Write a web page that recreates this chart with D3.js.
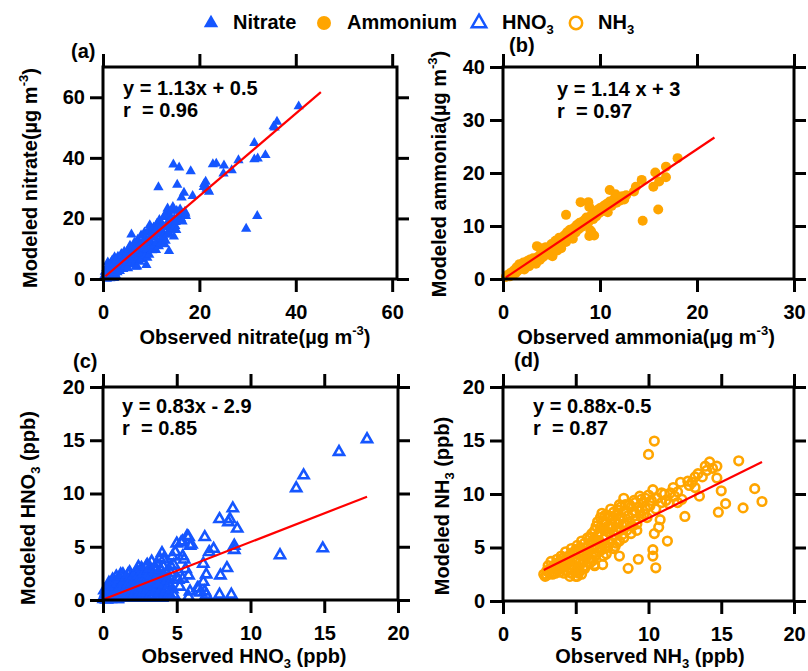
<!DOCTYPE html>
<html>
<head>
<meta charset="utf-8">
<script src="https://cdn.jsdelivr.net/npm/d3@7"></script>
<style>
  body { margin: 0; background: #fff; }
  text { font-family: "Liberation Sans", Arial, sans-serif; font-weight: bold; fill: #000; }
</style>
</head>
<body>
<script>
// ---- data ----
const nitratePts = [
  [0.2,0.3],[0.3,1.2],[0.4,2.4],[0.5,0.5],[0.6,2.0],[0.7,3.6],[0.8,1.0],[0.8,0.1],[0.9,3.1],[1.0,0.4],[1.0,5.5],
  [1.1,4.5],[1.2,1.8],[1.2,0.9],[1.3,2.7],[1.4,0.6],[1.5,3.6],[1.5,0.2],[1.6,5.2],[1.6,2.0],[1.7,1.3],[1.8,2.4],
  [1.9,6.1],[2.0,4.0],[2.0,5.8],[2.1,0.8],[2.2,3.0],[2.2,1.4],[2.3,5.3],[2.3,0.3],[2.4,7.2],[2.5,1.9],[2.6,4.4],
  [2.6,2.8],[2.7,6.5],[2.8,6.0],[2.8,0.9],[2.9,3.2],[3.0,2.2],[3.1,7.4],[3.2,4.2],[3.3,5.0],[3.4,3.8],[3.5,2.6],
  [3.6,6.6],[3.7,5.4],[3.8,8.3],[3.9,4.5],[4.0,7.8],[4.1,5.8],[4.2,3.3],[4.3,6.2],[4.4,9.0],[4.5,7.0],[4.6,4.0],
  [4.7,4.6],[4.8,6.6],[4.9,8.0],[5.0,5.8],[5.1,9.2],[5.2,3.5],[5.3,9.8],[5.4,4.8],[5.5,7.2],[5.6,11.0],[5.7,8.0],
  [5.8,5.5],[5.9,14.7],[6.0,8.6],[6.1,6.8],[6.2,10.3],[6.3,6.4],[6.4,9.3],[6.5,12.0],[6.6,5.0],[6.7,8.0],[6.8,4.0],
  [6.9,10.8],[7.0,11.2],[7.1,4.1],[7.2,13.0],[7.3,7.0],[7.4,8.4],[7.5,9.5],[7.6,5.7],[7.7,11.7],[7.8,6.5],[7.9,14.4],
  [8.0,8.5],[8.1,10.8],[8.2,6.8],[8.3,12.5],[8.4,8.9],[8.5,10.2],[8.6,15.4],[8.7,12.2],[8.8,7.8],[8.9,13.5],[9.0,4.6],
  [9.1,9.8],[9.2,7.0],[9.3,11.6],[9.4,16.0],[9.5,13.0],[9.6,8.0],[9.7,17.8],[9.8,14.0],[10.0,12.0],[10.1,10.6],
  [10.2,9.5],[10.3,15.8],[10.4,14.3],[10.5,17.0],[10.6,11.0],[10.8,13.6],[10.9,16.4],[11.0,9.6],
  [11.1,12.0],[11.2,18.3],[11.3,16.8],[11.4,14.6],[11.5,30.3],[11.6,10.8],[11.7,19.5],[11.9,16.2],[12.0,11.8],
  [12.1,13.4],[12.3,18.0],[12.4,15.5],[12.5,14.1],[12.6,20.5],[12.8,11.5],[12.9,17.2],[13.0,12.6],
  [13.1,21.8],[13.2,14.6],[13.3,17.6],[13.4,23.3],[13.5,19.0],[13.6,15.2],[13.7,9.2],[13.8,16.0],[13.9,21.0],
  [14.0,19.6],[14.1,18.2],[14.3,22.6],[14.4,16.6],[14.5,23.8],[14.6,37.8],[14.7,14.0],[14.8,20.0],
  [15.0,17.5],[15.1,18.8],[15.2,16.2],[15.3,22.5],[15.4,31.1],[15.5,19.8],[15.6,20.6],[15.8,36.8],[15.9,21.5],
  [16.0,23.0],[16.2,20.0],[16.3,26.9],[16.5,19.0],[16.6,21.4],[16.8,28.5],[17.0,22.2],[17.1,21.6],[17.2,20.8],
  [18.2,35.6],[18.6,27.4],[20.9,30.4],[21.0,31.4],[21.3,32.1],[21.5,29.8],[21.8,29.4],[22.0,28.8],
  [22.8,37.9],[23.5,38.1],[25.0,34.8],[25.1,37.5],[26.7,35.9],[28.1,39.2],[29.7,16.6],
  [31.4,44.9],[31.4,39.5],[32.0,20.8],[32.1,39.8],[33.7,40.9],[35.4,50.4],[35.6,50.0],[36.1,51.9],[40.6,57.0]
];

const ammoniumPts = [
  [0.3,0.4],[0.5,0.8],[0.7,0.5],[0.8,1.2],[1.0,0.9],[1.1,1.6],[1.3,1.1],[1.4,2.2],[1.5,1.5],[1.7,2.8],
  [1.8,1.9],[2.0,2.4],[2.1,3.1],[2.2,1.8],[2.4,2.8],[2.5,3.4],[2.7,2.4],[2.8,3.7],[3.0,3.0],[3.1,3.9],
  [3.3,3.4],[3.4,2.9],[3.5,6.2],[3.6,4.2],[3.8,3.6],[3.9,4.8],[4.0,5.8],[4.1,4.1],[4.3,5.0],[4.4,6.0],
  [4.6,4.6],[4.7,5.6],[4.9,5.1],[5.0,6.6],[5.1,4.3],[5.2,5.8],[5.4,7.2],[5.5,6.2],[5.6,5.4],[5.8,7.8],
  [5.9,6.6],[6.0,5.8],[6.2,7.4],[6.3,8.2],[6.5,12.1],[6.5,7.0],[6.6,8.8],[6.8,7.9],[6.9,9.3],[7.0,8.4],
  [7.2,7.6],[7.3,9.6],[7.5,8.8],[7.6,10.2],[7.8,9.4],[7.9,10.6],[8.0,14.5],[8.1,9.8],[8.3,11.0],[8.4,10.3],
  [8.6,11.6],[8.8,14.5],[8.8,10.7],[8.9,8.1],[8.9,13.6],[9.0,9.2],[9.1,8.9],[9.1,12.0],[9.3,11.3],[9.4,8.2],
  [9.4,12.6],[9.6,11.8],[9.7,13.0],[9.9,12.4],[10.0,13.4],[10.2,12.8],[10.4,13.8],[10.5,13.1],[10.7,14.2],
  [10.8,12.6],[11.0,16.8],[11.0,14.6],[11.2,13.8],[11.4,15.0],[11.6,16.0],[11.7,14.4],[11.9,15.2],[12.1,14.8],
  [12.3,15.6],[12.5,15.0],[12.7,15.8],[13.5,16.5],[13.7,17.4],[14.3,18.7],[14.4,11.0],[15.5,17.4],[15.7,20.1],
  [16.0,13.1],[16.1,18.4],[16.8,21.2],[16.8,19.2],[18.0,22.8]
];

const hno3Pts = [
  [0.05,0.1],[0.1,0.4],[0.1,0.9],[0.15,0.2],[0.2,0.7],[0.2,0.1],[0.25,0.05],[0.3,1.2],[0.3,0.3],[0.35,0.5],
  [0.4,0.9],[0.4,1.6],[0.45,0.2],[0.5,1.5],[0.5,0.1],[0.55,0.6],[0.6,1.0],[0.6,0.4],[0.65,1.9],[0.7,0.3],
  [0.7,1.3],[0.75,1.8],[0.8,0.7],[0.8,0.2],[0.85,1.3],[0.9,2.2],[0.9,0.5],[0.95,0.1],[1.0,0.9],[1.0,1.9],
  [1.0,0.1],[1.05,1.6],[1.1,0.4],[1.1,1.1],[1.15,2.0],[1.2,1.2],[1.2,0.3],[1.2,2.4],[1.25,2.2],[1.3,0.6],
  [1.3,0.8],[1.35,2.4],[1.4,1.6],[1.4,1.3],[1.45,0.4],[1.5,0.2],[1.5,1.9],[1.55,1.0],[1.6,2.1],[1.6,0.7],
  [1.65,1.2],[1.7,0.5],[1.7,2.4],[1.75,1.5],[1.8,2.6],[1.8,0.2],[1.85,1.1],[1.9,0.9],[1.9,2.2],[1.95,1.9],
  [2.0,0.2],[2.0,1.6],[2.0,0.7],[2.1,2.3],[2.1,0.4],[2.15,1.3],[2.2,0.6],[2.2,1.9],[2.25,2.6],[2.3,2.7],
  [2.3,1.0],[2.35,1.7],[2.4,0.3],[2.4,1.4],[2.4,3.1],[2.45,2.3],[2.5,1.0],[2.5,0.6],[2.55,2.1],[2.6,3.0],
  [2.6,1.8],[2.65,0.2],[2.7,0.6],[2.7,2.8],[2.75,1.5],[2.8,2.5],[2.8,1.2],[2.85,0.5],[2.9,0.2],[2.9,2.1],
  [2.95,3.2],[3.0,1.9],[3.0,3.3],[3.0,0.7],[3.05,1.0],[3.1,2.8],[3.1,1.6],[3.15,2.5],[3.2,0.4],[3.2,3.0],
  [3.25,1.5],[3.3,2.3],[3.3,1.1],[3.3,3.6],[3.35,0.2],[3.4,0.8],[3.4,2.0],[3.5,3.0],[3.5,1.3],[3.55,1.8],
  [3.55,2.7],[3.6,0.3],[3.6,0.8],[3.65,3.4],[3.7,1.2],[3.7,2.1],[3.75,0.4],[3.8,2.5],[3.8,1.6],[3.85,3.9],
  [3.9,0.6],[3.9,2.9],[4.0,4.4],[4.0,1.8],[4.0,1.0],[4.0,0.2],[4.1,3.8],[4.1,2.2],[4.1,3.1],[4.2,0.4],
  [4.2,1.5],[4.3,2.6],[4.3,0.8],[4.4,1.1],[4.4,1.9],[4.4,0.3],[4.5,0.5],[4.5,1.4],[4.6,3.2],[4.6,0.3],
  [4.6,2.5],[4.7,4.1],[4.7,1.0],[4.8,3.3],[4.8,0.5],[4.9,4.5],[5.0,5.3],[5.0,2.1],
  [5.1,1.9],[5.2,1.25],[5.3,5.4],[5.4,5.5],[5.4,4.1],[5.4,2.0],[5.5,3.8],[5.6,2.9],[5.7,6.0],[5.8,5.9],
  [5.8,2.3],[5.8,0.3],[5.9,5.1],[5.9,0.8],[6.0,5.2],[6.4,1.1],[6.5,1.1],[6.6,0.7],[6.8,3.4],[6.8,1.7],
  [6.9,5.9],[6.9,0.8],[7.0,2.4],[7.0,0.5],[7.2,4.5],[7.5,4.8],[7.9,7.6],[7.9,0.5],[7.96,2.3],[8.4,3.0],
  [8.5,7.3],[8.6,7.6],[8.7,0.5],[8.8,8.6],[8.9,5.1],[8.9,4.7],[9.1,6.7],[12.0,4.2],[13.1,10.5],[13.6,11.7],
  [14.9,4.85],[16.0,13.9],[17.9,15.1]
];

const nh3Pts = [
  [2.8,2.5],[2.9,2.3],[3.0,2.8],[3.0,2.4],[3.1,3.3],[3.2,2.6],[3.2,3.0],[3.3,3.7],[3.4,3.0],[3.4,2.5],
  [3.5,2.7],[3.5,3.3],[3.6,3.4],[3.6,2.6],[3.7,3.9],[3.8,2.9],[3.8,3.6],[3.9,3.5],[3.9,2.7],[4.0,4.2],
  [4.0,3.3],[4.1,3.1],[4.1,4.0],[4.2,3.8],[4.2,2.6],[4.3,4.6],[4.3,3.4],[4.4,2.8],[4.4,4.1],[4.5,3.6],
  [4.5,4.2],[4.6,2.3],[4.6,3.0],[4.6,3.9],[4.7,4.9],[4.7,2.6],[4.8,3.3],[4.8,4.5],[4.9,4.4],[4.9,3.2],
  [5.0,2.3],[5.0,3.8],[5.0,4.8],[5.0,2.8],[5.1,5.2],[5.1,2.3],[5.1,4.0],[5.2,2.6],[5.2,4.6],[5.2,3.2],
  [5.3,3.6],[5.3,5.0],[5.4,5.6],[5.4,2.5],[5.4,4.4],[5.5,4.2],[5.5,3.05],[5.5,3.6],[5.6,3.0],[5.6,5.0],
  [5.6,5.4],[5.7,4.0],[5.7,3.3],[5.8,5.9],[5.8,4.4],[5.8,5.0],[5.9,4.6],[5.9,3.9],[6.0,3.6],[6.0,5.4],
  [6.0,6.0],[6.1,6.3],[6.1,4.9],[6.2,4.4],[6.2,3.8],[6.2,5.6],[6.3,3.3],[6.3,3.4],[6.3,5.8],[6.3,6.6],
  [6.4,7.0],[6.4,4.3],[6.4,5.2],[6.5,5.0],[6.5,6.1],[6.5,7.4],[6.6,6.4],[6.6,4.6],[6.6,5.6],[6.7,7.8],
  [6.7,6.9],[6.8,4.8],[6.8,8.2],[6.8,5.3],[6.85,3.4],[6.9,5.8],[6.9,7.5],[6.9,4.2],[7.0,7.2],[7.0,6.6],
  [7.0,5.0],[7.0,8.0],[7.1,4.4],[7.1,6.0],[7.2,8.0],[7.2,7.0],[7.2,5.0],[7.3,5.4],[7.3,6.4],[7.4,8.6],
  [7.4,6.8],[7.4,7.9],[7.5,7.6],[7.5,5.8],[7.5,6.9],[7.6,4.9],[7.6,8.3],[7.7,6.2],[7.7,5.1],[7.7,7.4],
  [7.8,8.0],[7.8,5.4],[7.8,6.6],[7.9,7.2],[7.9,8.5],[8.0,9.0],[8.0,4.2],[8.0,5.6],[8.0,7.6],[8.1,6.6],
  [8.1,8.8],[8.2,7.8],[8.2,6.2],[8.3,9.6],[8.3,5.9],[8.3,7.2],[8.4,8.4],[8.4,9.0],[8.5,7.1],[8.5,6.6],
  [8.6,3.05],[8.6,8.0],[8.7,9.0],[8.7,7.4],[8.8,6.3],[8.8,8.8],[8.9,8.2],[8.9,7.0],[9.0,9.4],[9.0,8.4],
  [9.1,7.6],[9.1,9.2],[9.2,6.6],[9.2,7.2],[9.3,3.9],[9.3,8.8],[9.4,9.8],[9.4,8.4],[9.5,7.9],[9.5,9.5],
  [9.6,9.2],[9.7,8.1],[9.8,8.6],[9.8,9.6],[9.9,7.8],[10.0,9.9],[10.0,13.7],[10.1,8.9],[10.2,9.4],[10.3,10.4],
  [10.3,4.8],[10.3,4.2],[10.4,14.95],[10.4,6.3],[10.5,3.1],[10.5,8.6],[10.6,9.6],[10.7,6.9],[10.8,7.6],
  [10.9,9.2],[10.9,10.1],[11.1,10.0],[11.2,9.4],[11.3,5.6],[11.4,9.1],[11.5,10.1],[11.7,10.6],[11.8,9.8],
  [12.0,10.2],[12.0,9.2],[12.2,11.1],[12.3,9.5],[12.5,7.9],[12.7,11.2],[12.8,10.8],[13.0,11.1],[13.2,10.6],
  [13.2,11.6],[13.4,11.9],[13.5,9.8],[13.7,11.6],[13.9,12.6],[14.0,12.2],[14.2,13.0],[14.4,12.4],[14.7,12.6],
  [14.7,11.5],[15.0,10.3],[14.8,8.3],[15.3,9.1],[16.2,13.1],[16.5,8.7],[17.3,10.5],[17.8,9.3]
];

// regression line end points
const fitA = [[0.5, 0.9], [45.2, 61.7]];
const fitB = [[0.3, 0.3], [21.8, 26.7]];
const fitC = [[0.1, 0.1], [17.9, 9.7]];
const fitD = [[2.8, 2.9], [17.8, 13.0]];

// ticks
const ticksA_x = [0, 20, 40, 60], ticksA_y = [0, 20, 40, 60];
const ticksB_x = [0, 10, 20, 30], ticksB_y = [0, 10, 20, 30, 40];
const ticksC_x = [0, 5, 10, 15, 20], ticksC_y = [0, 5, 10, 15, 20];
const ticksD_x = [0, 5, 10, 15, 20], ticksD_y = [0, 5, 10, 15, 20];

const eqs = [
  ['y = 1.13x + 0.5', 'r  = 0.96'],
  ['y = 1.14 x + 3', 'r  = 0.97'],
  ['y = 0.83x - 2.9', 'r  = 0.85'],
  ['y = 0.88x-0.5', 'r  = 0.87']
];

const BLUE = '#1556ff', ORANGE = '#ffa500', RED = '#ff0000';

const svg = d3.select('body').append('svg').attr('width', 808).attr('height', 671);

const triFill = d3.symbol().type(d3.symbolTriangle).size(46);
const triOpen = d3.symbol().type(d3.symbolTriangle).size(44);
const triLegend = d3.symbol().type(d3.symbolTriangle).size(90);

// rich text helper: parts = [[text, 'sup'|'sub'|null], ...]
function rich(g, parts) {
  parts.forEach(([s, k]) => {
    const t = g.append('tspan').text(s);
    if (k === 'sup') t.attr('font-size', 13).attr('dy', -9);
    if (k === 'sub') t.attr('font-size', 13).attr('dy', 5);
    if (k === 'after-sup') t.attr('dy', 9);
    if (k === 'after-sub') t.attr('dy', -5);
  });
}

const panels = [
  { L: 103, R: 397, T: 67, B: 279, xd: [0, 61], yd: [0, 70], xt: ticksA_x, yt: ticksA_y,
    pts: nitratePts, kind: 'triFill', fit: fitA, eq: eqs[0], eqX: 123, eqY: 95,
    lab: '(a)', labX: 71, labY: 58,
    xTitle: [['Observed nitrate(µg m', null], ['-3', 'sup'], [')', 'after-sup']], xTX: 255, xTY: 344,
    yTitle: [['Modeled nitrate(µg m', null], ['-3', 'sup'], [')', 'after-sup']], yTX: 37, yTY: 178 },
  { L: 503, R: 794, T: 67, B: 279, xd: [0, 30], yd: [0, 40], xt: ticksB_x, yt: ticksB_y,
    pts: ammoniumPts, kind: 'circFill', fit: fitB, eq: eqs[1], eqX: 557, eqY: 96,
    lab: '(b)', labX: 509, labY: 52,
    xTitle: [['Observed ammonia(µg m', null], ['-3', 'sup'], [')', 'after-sup']], xTX: 646, xTY: 344,
    yTitle: [['Modeled ammonia(µg m', null], ['-3', 'sup'], [')', 'after-sup']], yTX: 446, yTY: 174 },
  { L: 103, R: 398, T: 387, B: 600, xd: [0, 20], yd: [0, 20], xt: ticksC_x, yt: ticksC_y,
    pts: hno3Pts, kind: 'triOpen', fit: fitC, eq: eqs[2], eqX: 122, eqY: 413,
    lab: '(c)', labX: 73, labY: 368,
    xTitle: [['Observed HNO', null], ['3', 'sub'], [' (ppb)', 'after-sub']], xTX: 244, xTY: 663,
    yTitle: [['Modeled HNO', null], ['3', 'sub'], [' (ppb)', 'after-sub']], yTX: 35, yTY: 508 },
  { L: 503, R: 794, T: 387, B: 601, xd: [0, 20], yd: [0, 20], xt: ticksD_x, yt: ticksD_y,
    pts: nh3Pts, kind: 'circOpen', fit: fitD, eq: eqs[3], eqX: 533, eqY: 413,
    lab: '(d)', labX: 514, labY: 367,
    xTitle: [['Observed NH', null], ['3', 'sub'], [' (ppb)', 'after-sub']], xTX: 650, xTY: 663,
    yTitle: [['Modeled NH', null], ['3', 'sub'], [' (ppb)', 'after-sub']], yTX: 449, yTY: 506 }
];

panels.forEach(p => {
  const x = d3.scaleLinear().domain(p.xd).range([p.L, p.R]);
  const y = d3.scaleLinear().domain(p.yd).range([p.B, p.T]);
  const g = svg.append('g');

  // points
  const pg = g.append('g');
  if (p.kind === 'triFill' || p.kind === 'triOpen') {
    pg.selectAll('path').data(p.pts).enter().append('path')
      .attr('d', p.kind === 'triFill' ? triFill : triOpen)
      .attr('transform', d => `translate(${x(d[0])},${y(d[1])})`)
      .attr('fill', p.kind === 'triFill' ? BLUE : 'none')
      .attr('stroke', p.kind === 'triFill' ? 'none' : BLUE)
      .attr('stroke-width', 2.6);
  } else {
    pg.selectAll('circle').data(p.pts).enter().append('circle')
      .attr('cx', d => x(d[0])).attr('cy', d => y(d[1]))
      .attr('r', p.kind === 'circFill' ? 5 : 4.3)
      .attr('fill', p.kind === 'circFill' ? ORANGE : 'none')
      .attr('stroke', p.kind === 'circFill' ? 'none' : ORANGE)
      .attr('stroke-width', 2.6);
  }

  // fit line
  g.append('path')
    .attr('d', d3.line().x(d => x(d[0])).y(d => y(d[1]))(p.fit))
    .attr('stroke', RED).attr('stroke-width', 2.2).attr('fill', 'none');

  // axes
  const styleAxis = sel => {
    sel.select('.domain').remove();
    sel.selectAll('.tick line').attr('stroke', '#000').attr('stroke-width', 3);
    sel.selectAll('.tick text').attr('font-size', 20).attr('font-family', '"Liberation Sans", Arial, sans-serif')
      .attr('font-weight', 'bold').attr('fill', '#000');
  };
  g.append('g').attr('transform', `translate(0,${p.B})`)
    .call(d3.axisBottom(x).tickValues(p.xt).tickSize(13).tickPadding(13).tickFormat(d3.format('d')))
    .call(styleAxis);
  g.append('g').attr('transform', `translate(0,${p.T})`)
    .call(d3.axisTop(x).tickValues(p.xt).tickSize(13).tickFormat(''))
    .call(styleAxis);
  g.append('g').attr('transform', `translate(${p.L},0)`)
    .call(d3.axisLeft(y).tickValues(p.yt).tickSize(13).tickPadding(5).tickFormat(d3.format('d')))
    .call(styleAxis);
  g.append('g').attr('transform', `translate(${p.R},0)`)
    .call(d3.axisRight(y).tickValues(p.yt).tickSize(12).tickFormat(''))
    .call(styleAxis);

  // frame
  g.append('rect').attr('x', p.L).attr('y', p.T).attr('width', p.R - p.L).attr('height', p.B - p.T)
    .attr('fill', 'none').attr('stroke', '#000').attr('stroke-width', 3);

  // equation
  g.append('text').attr('x', p.eqX).attr('y', p.eqY).attr('font-size', 20)
    .style('white-space', 'pre').text(p.eq[0]);
  g.append('text').attr('x', p.eqX).attr('y', p.eqY + 22).attr('font-size', 20)
    .style('white-space', 'pre').text(p.eq[1]);

  // panel label
  g.append('text').attr('x', p.labX).attr('y', p.labY).attr('font-size', 20).text(p.lab);

  // axis titles
  const xt = g.append('text').attr('x', p.xTX).attr('y', p.xTY).attr('font-size', 20)
    .attr('text-anchor', 'middle');
  rich(xt, p.xTitle);
  const yt = g.append('text').attr('font-size', 20).attr('text-anchor', 'middle')
    .attr('transform', `translate(${p.yTX},${p.yTY}) rotate(-90)`);
  rich(yt, p.yTitle);
});

// legend
const legendItems = [
  { kind: 'triFill', label: [['Nitrate', null]], mx: 211, tx: 233 },
  { kind: 'circFill', label: [['Ammonium', null]], mx: 324, tx: 347 },
  { kind: 'triOpen', label: [['HNO', null], ['3', 'sub']], mx: 479, tx: 502 },
  { kind: 'circOpen', label: [['NH', null], ['3', 'sub']], mx: 576, tx: 598 }
];
const lg = svg.append('g');
legendItems.forEach(it => {
  if (it.kind.startsWith('tri')) {
    lg.append('path').attr('d', triLegend)
      .attr('transform', `translate(${it.mx},23)`)
      .attr('fill', it.kind === 'triFill' ? BLUE : 'none')
      .attr('stroke', it.kind === 'triFill' ? 'none' : BLUE)
      .attr('stroke-width', 2.5);
  } else {
    lg.append('circle').attr('cx', it.mx).attr('cy', 23)
      .attr('r', it.kind === 'circFill' ? 7 : 6.2)
      .attr('fill', it.kind === 'circFill' ? ORANGE : 'none')
      .attr('stroke', it.kind === 'circFill' ? 'none' : ORANGE)
      .attr('stroke-width', 2.5);
  }
  const t = lg.append('text').attr('x', it.tx).attr('y', 29).attr('font-size', 20);
  rich(t, it.label);
});
</script>
</body>
</html>
